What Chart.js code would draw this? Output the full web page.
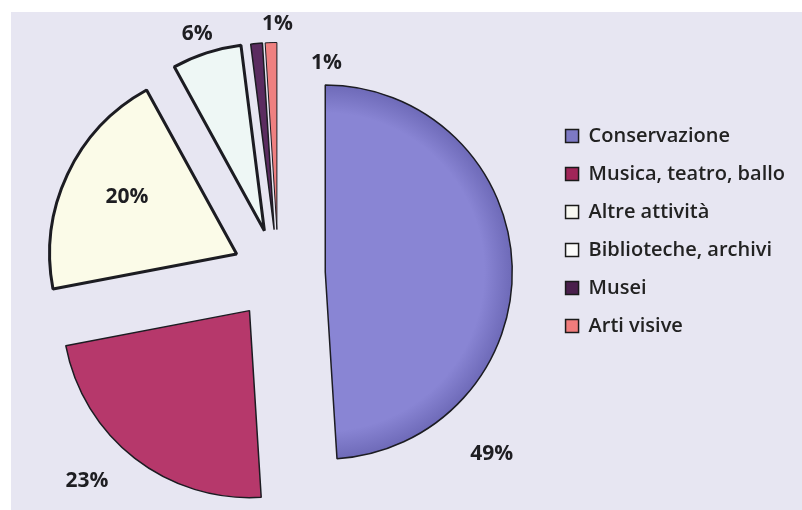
<!DOCTYPE html>
<html>
<head>
<meta charset="utf-8">
<script src="https://cdn.jsdelivr.net/npm/chart.js@4.4.1/dist/chart.umd.min.js"></script>
<style>
  html, body { margin: 0; padding: 0; background: #fff; }
  #wrap { width: 802px; height: 510px; }
</style>
</head>
<body>
<div id="wrap"><canvas id="torta" width="802" height="510"></canvas></div>
<script>
// Dati
const categorie = ['Conservazione', 'Musica, teatro, ballo', 'Altre attività', 'Biblioteche, archivi', 'Musei', 'Arti visive'];
const quote = [49, 23, 20, 6, 1, 1];

// Stili
const coloriFetta = ['#8985d4', '#b6386b', '#fbfbe8', '#eef7f5', '#5b2c60', '#ef8080'];
const coloriBordoFetta = ['#6e6ab8', null, null, null, null, null]; // sfumatura verso il bordo
const coloriLegenda = ['#7d79c4', '#a12558', '#f8f8f2', '#fbfbfb', '#4a1f4c', '#f07c7c'];
const bordi = [1.5, 1.5, 3, 3, 1.5, 1];
const stacchi = [47, 47, 46, 45, 44, 44]; // esplosione di ogni fetta, px
// etichette: frazione dell'angolo della fetta, distanza in raggi
const etiFraz = [0.78, 0.57, 0.53, 0.46, 2.25, 5.6];
const etiDist = [1.32, 1.26, 0.66, 1.11, 1.10, 0.93];

const RAGGIO = 187;

const sfondo = {
  id: 'sfondo',
  beforeDraw(chart) {
    const c = chart.ctx;
    c.save();
    c.fillStyle = '#fff';
    c.fillRect(0, 0, chart.width, chart.height);
    c.fillStyle = '#e7e6f2';
    c.fillRect(11, 12, chart.width - 11, chart.height - 12);
    c.restore();
  }
};

// torta esplosa: sposta ogni fetta lungo la sua bisettrice
const esplodi = {
  id: 'esplodi',
  beforeDatasetsDraw(chart) {
    const a = chart.chartArea;
    const cx = (a.left + a.right) / 2;
    const cy = (a.top + a.bottom) / 2;
    chart.getDatasetMeta(0).data.forEach((arc, i) => {
      const mid = (arc.startAngle + arc.endAngle) / 2;
      arc.x = cx + Math.cos(mid) * stacchi[i];
      arc.y = cy + Math.sin(mid) * stacchi[i];
      if (coloriBordoFetta[i]) {
        const g = chart.ctx.createRadialGradient(arc.x, arc.y, 0, arc.x, arc.y, RAGGIO);
        g.addColorStop(0, coloriFetta[i]);
        g.addColorStop(0.85, coloriFetta[i]);
        g.addColorStop(1, coloriBordoFetta[i]);
        arc.options.backgroundColor = g;
      }
    });
  }
};

const percentuali = {
  id: 'percentuali',
  afterDatasetsDraw(chart) {
    const ctx = chart.ctx;
    ctx.save();
    ctx.font = 'bold 21px "Open Sans"';
    ctx.fillStyle = '#1e1e22';
    ctx.textAlign = 'center';
    ctx.textBaseline = 'middle';
    chart.getDatasetMeta(0).data.forEach((arc, i) => {
      const { x, y, startAngle, endAngle } = arc;
      const a = startAngle + etiFraz[i] * (endAngle - startAngle);
      const r = RAGGIO * etiDist[i];
      ctx.fillText(quote[i] + '%', x + Math.cos(a) * r, y + Math.sin(a) * r);
    });
    ctx.restore();
  }
};

new Chart(document.getElementById('torta'), {
  type: 'pie',
  data: {
    labels: categorie,
    datasets: [{
      data: quote,
      backgroundColor: coloriFetta,
      borderColor: '#1c1c22',
      borderWidth: bordi,
      radius: RAGGIO,
      clip: false
    }]
  },
  options: {
    responsive: false,
    animation: false,
    events: [],
    layout: { padding: { left: 9, top: 108, bottom: 71, right: 7 } },
    plugins: {
      tooltip: { enabled: false },
      legend: {
        position: 'right',
        align: 'start',
        labels: {
          boxWidth: 13,
          boxHeight: 13,
          padding: 18,
          color: '#222',
          font: { family: 'Open Sans', size: 20, weight: '600' },
          generateLabels: () => categorie.map((t, i) => ({
            text: t,
            fillStyle: coloriLegenda[i],
            strokeStyle: '#1a1a1a',
            lineWidth: 1.5,
            fontColor: '#222',
            hidden: false,
            index: i
          }))
        }
      }
    }
  },
  plugins: [sfondo, esplodi, percentuali]
});
</script>
</body>
</html>
